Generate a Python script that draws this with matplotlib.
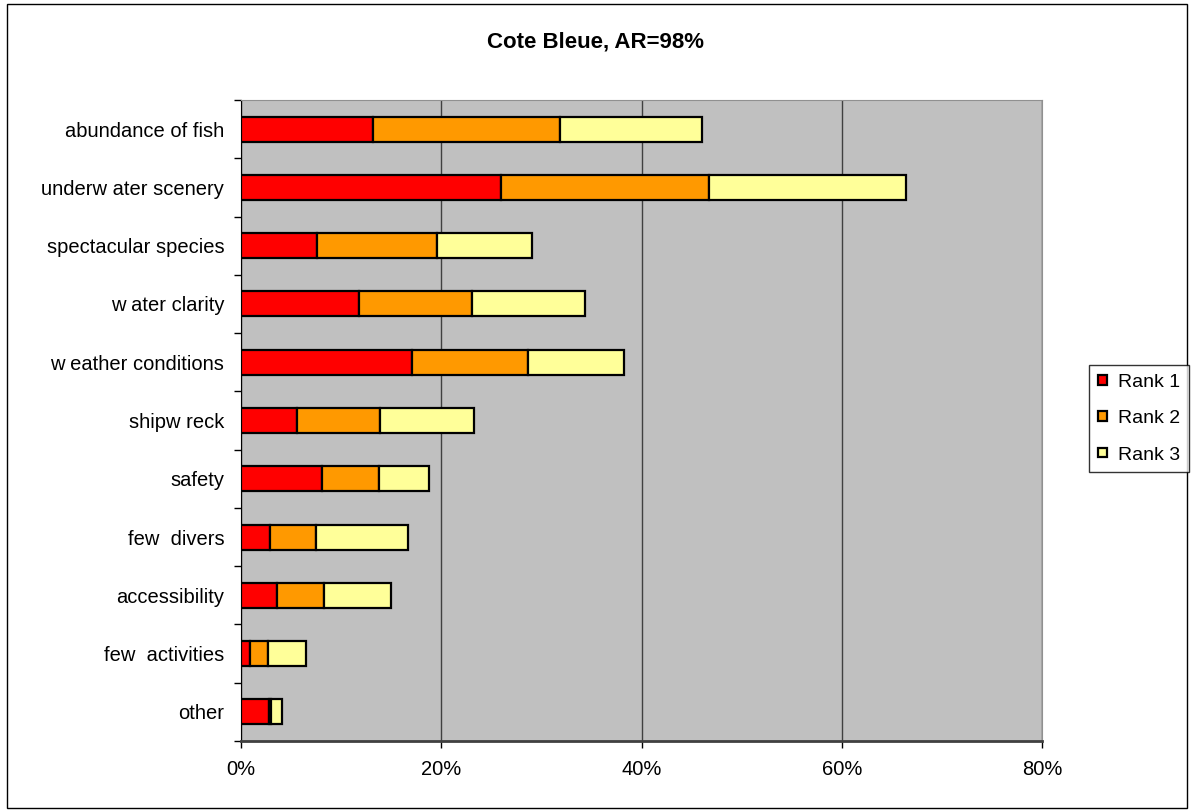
import numpy as np
import matplotlib.pyplot as plt
from matplotlib.patches import Rectangle
from matplotlib.ticker import PercentFormatter, FixedLocator

plt.rcParams['font.family'] = ['Liberation Sans', 'DejaVu Sans']

# Raisons du choix du site, en %
categories = ['abundance of fish', 'underw ater scenery', 'spectacular species',
              'w ater clarity', 'w eather conditions', 'shipw reck', 'safety',
              'few  divers', 'accessibility', 'few  activities', 'other']
rank1 = [13.2, 26.0, 7.6, 11.8, 17.1, 5.6, 8.1, 2.9, 3.6, 0.9, 2.8]
rank2 = [18.7, 20.7, 12.0, 11.3, 11.6, 8.3, 5.7, 4.6, 4.7, 1.8, 0.2]
rank3 = [14.1, 19.7, 9.5, 11.3, 9.6, 9.4, 5.0, 9.2, 6.7, 3.8, 1.1]
rank_labels = ['Rank 1', 'Rank 2', 'Rank 3']
couleurs = ['#FF0000', '#FF9900', '#FFFF99']

fig = plt.figure(figsize=(11.91, 8.11), dpi=100)
ax = fig.add_axes([241/1191, 1-741/811, (1042-241)/1191, (741-100)/811])
ax.set_facecolor('#C0C0C0')

y = np.arange(len(categories))
gauche = np.zeros(len(categories))
for vals, lab, col in zip([rank1, rank2, rank3], rank_labels, couleurs):
    ax.barh(y, vals, left=gauche, height=0.43, color=col, edgecolor='black',
            linewidth=1.6, label=lab, zorder=3)
    gauche = gauche + np.array(vals)

ax.set_xlim(0, 80)
ax.set_ylim(len(categories) - 0.5, -0.5)
ax.set_xticks([0, 20, 40, 60, 80])
ax.xaxis.set_major_formatter(PercentFormatter(decimals=0))
ax.grid(axis='x', color='#404040', linewidth=1, zorder=1)

ax.set_yticks(y)
ax.set_yticklabels(categories)
ax.yaxis.set_minor_locator(FixedLocator(np.arange(-0.5, len(categories), 1)))
ax.tick_params(axis='y', which='major', length=0, pad=12, labelsize=14.5)
ax.tick_params(axis='y', which='minor', length=5, direction='out', width=1)
ax.tick_params(axis='x', length=5, direction='out', width=1, labelsize=14.5, pad=9)

for s in ['top', 'right']:
    ax.spines[s].set_color('#909090')
ax.spines['left'].set_color('black')
ax.spines['bottom'].set_color('#404040')
ax.spines['bottom'].set_linewidth(2)

fig.text(0.5, 1-42/811, 'Cote Bleue, AR=98%', ha='center', va='center',
         fontsize=16, fontweight='bold')

leg = fig.legend(loc='upper left', bbox_to_anchor=(1089/1191, 1-365/811),
                 fontsize=14, frameon=True, fancybox=False, edgecolor='black',
                 handlelength=0.5, handleheight=0.38, handletextpad=0.55,
                 labelspacing=1.0, borderpad=0.45, borderaxespad=0)
leg.get_frame().set_linewidth(1)

fig.patches.append(Rectangle((7/1191, 3/811), 1180/1191, 804/811, transform=fig.transFigure,
                             fill=False, edgecolor='black', linewidth=1))

plt.savefig('out.png', dpi=100)
